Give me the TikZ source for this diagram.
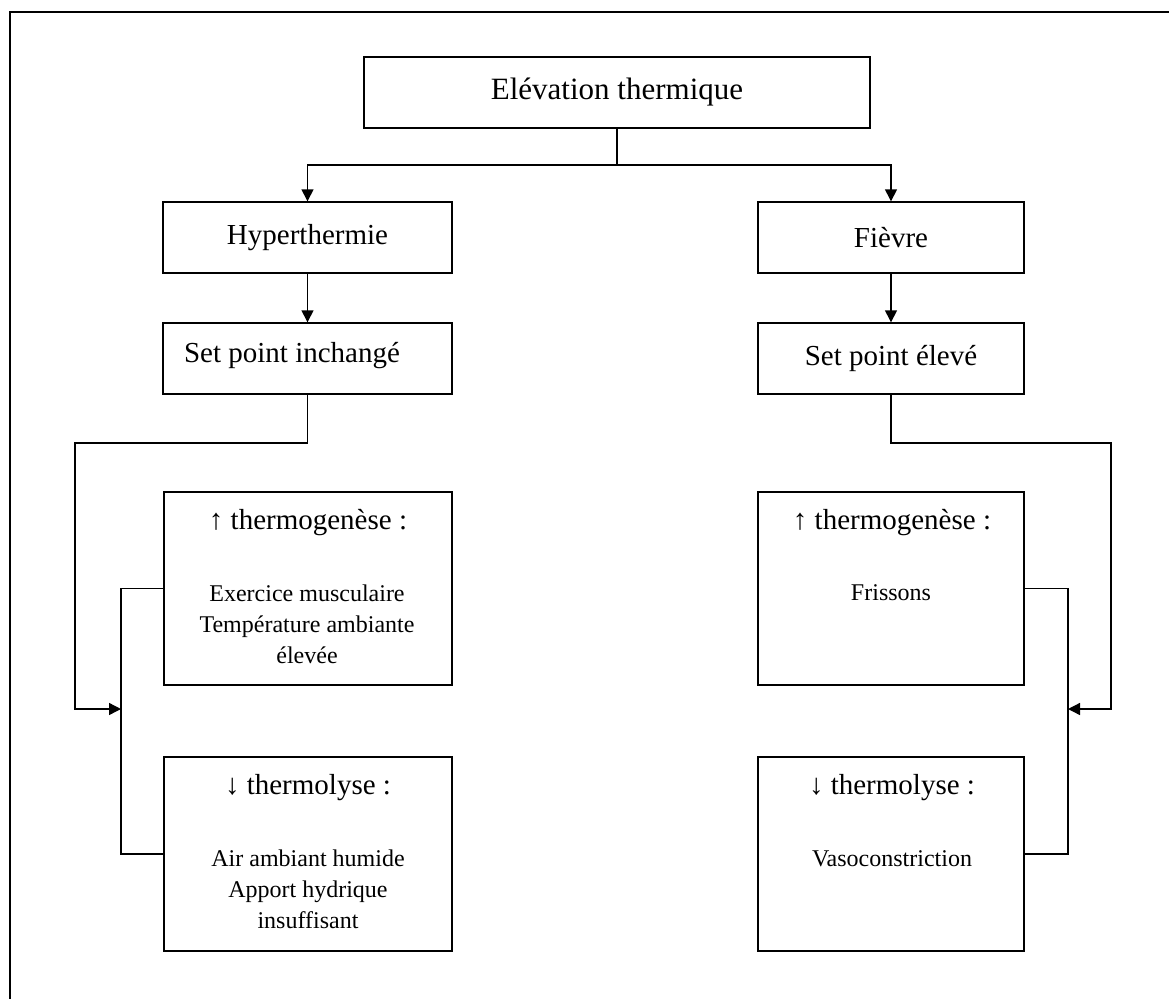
\documentclass[tikz,border=0pt]{standalone}
\usepackage{fontspec}
\setmainfont{Liberation Serif}
\usetikzlibrary{arrows.meta}
\begin{document}
\begin{tikzpicture}[x=1pt,y=-1pt,
  box/.style={draw, line width=1.4pt, inner sep=0pt},
  lbl/.style={font=\fontsize{29}{34}\selectfont, inner sep=0pt},
  item/.style={font=\fontsize{24}{31}\selectfont, align=center, inner sep=0pt},
  conn/.style={line width=1.4pt},
  arr/.style={conn, -{Triangle[length=12pt,width=12pt]}}
]
\useasboundingbox (0,0) rectangle (1169,998);
\draw[line width=2.5pt] (10,1010) -- (10,12) -- (1180,12);

% boxes
\node[box, minimum width=506pt, minimum height=71pt, font=\fontsize{31}{36}\selectfont] (title) at (617,92.5) {Elévation thermique};
\node[box, minimum width=289pt, minimum height=71pt, font=\fontsize{29}{34}\selectfont] (hyper) at (307.5,237.5) {Hyperthermie};
\node[box, minimum width=289pt, minimum height=71pt] (spi) at (307.5,358.5) {};
\node[lbl] (spitxt) at (292,356) {Set point inchangé};
\node[box, minimum width=266pt, minimum height=71pt, font=\fontsize{29}{34}\selectfont] (fievre) at (891,237.5) {Fièvre};
\node[box, minimum width=266pt, minimum height=71pt, font=\fontsize{29}{34}\selectfont] (spe) at (891,358.5) {Set point élevé};

\node[box, minimum width=288pt, minimum height=193pt] (tgL) at (308,588.5) {};
\node[box, minimum width=288pt, minimum height=194pt] (tlL) at (308,854) {};
\node[box, minimum width=266pt, minimum height=193pt] (tgR) at (891,588.5) {};
\node[box, minimum width=266pt, minimum height=194pt] (tlR) at (891,854) {};

% texts in big boxes
\node[lbl] (tgLh) at (308,523) {↑ thermogenèse :};
\node[item] (tgLi) at (307,624) {Exercice musculaire\\Température ambiante\\élevée};
\node[lbl] (tlLh) at (308,788) {↓ thermolyse :};
\node[item] (tlLi) at (308,889.5) {Air ambiant humide\\Apport hydrique\\insuffisant};
\node[lbl] (tgRh) at (892,523) {↑ thermogenèse :};
\node[item] (tgRi) at (891,593) {Frissons};
\node[lbl] (tlRh) at (892,788) {↓ thermolyse :};
\node[item] (tlRi) at (892,859) {Vasoconstriction};

% connectors
\coordinate (split) at (617,165);
\draw[conn] (title.south) -- (split);
\draw[arr] (split) -| (hyper.north);
\draw[arr] (split) -| (fievre.north);
\draw[arr] (hyper.south) -- (spi.north);
\draw[arr] (fievre.south) -- (spe.north);

\coordinate (lbend) at (75,443);
\coordinate (ltip) at (121,709);
\draw[arr] (spi.south) |- (lbend) |- (ltip);
\coordinate (linner) at (121,588.5);
\draw[conn] (tgL.west) -- (linner) |- (tlL.west);

\coordinate (rbend) at (1111,443);
\coordinate (rtip) at (1068,709);
\draw[arr] (spe.south) |- (rbend) |- (rtip);
\coordinate (rinner) at (1068,588.5);
\draw[conn] (tgR.east) -- (rinner) |- (tlR.east);
\end{tikzpicture}
\end{document}
